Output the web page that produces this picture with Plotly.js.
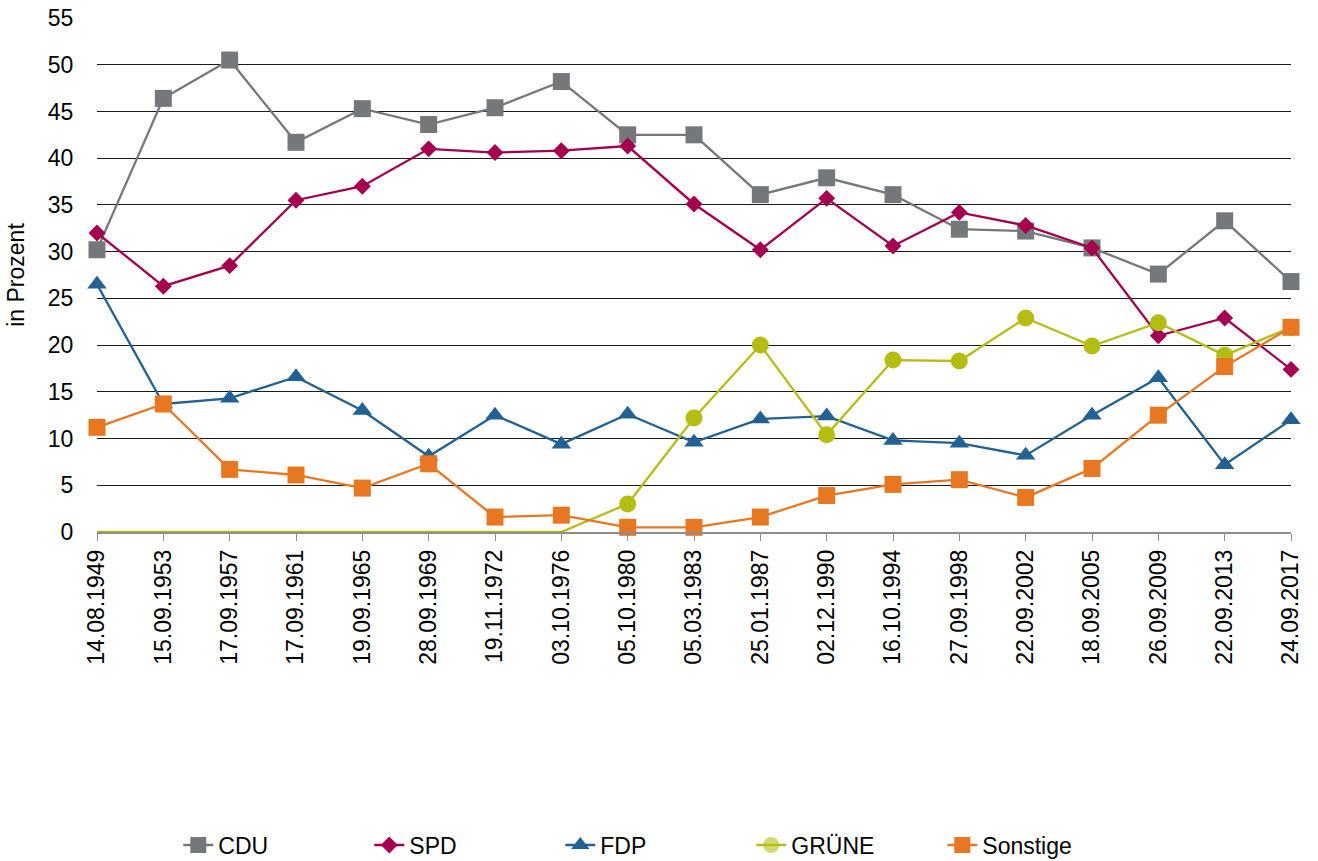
<!DOCTYPE html>
<html>
<head>
<meta charset="utf-8">
<script src="https://cdn.plot.ly/plotly-3.0.1.min.js"></script>
<style>html,body{margin:0;padding:0;background:#fff;}#chart{width:1318px;height:861px;}</style>
</head>
<body>
<div id="chart"></div>
<script>
const dates = ["14.08.1949","15.09.1953","17.09.1957","17.09.1961","19.09.1965","28.09.1969","19.11.1972","03.10.1976","05.10.1980","05.03.1983","25.01.1987","02.12.1990","16.10.1994","27.09.1998","22.09.2002","18.09.2005","26.09.2009","22.09.2013","24.09.2017"];
const cdu = [30.2,46.4,50.5,41.7,45.3,43.6,45.4,48.2,42.5,42.5,36.1,37.9,36.1,32.4,32.2,30.4,27.6,33.3,26.8];
const spd = [32.0,26.3,28.5,35.5,37.0,41.0,40.6,40.8,41.3,35.1,30.2,35.7,30.6,34.2,32.8,30.4,21.0,22.9,17.4];
const fdp = [26.5,13.7,14.3,16.6,13.0,8.1,12.5,9.4,12.6,9.6,12.1,12.4,9.8,9.5,8.2,12.5,16.5,7.2,12.0];
const gruene = [0,0,0,0,0,0,0,0,3.0,12.2,20.0,10.4,18.4,18.3,22.9,19.9,22.4,18.9,21.9];
const sonstige = [11.2,13.7,6.7,6.1,4.7,7.3,1.6,1.8,0.5,0.5,1.6,3.9,5.1,5.6,3.7,6.8,12.5,17.7,21.9];

function tr(name, y, color, symbol, size) {
  return {x: dates, y: y, name: name, type: 'scatter', mode: 'lines+markers', cliponaxis: false,
    line: {color: color, width: 2.3}, marker: {color: color, symbol: symbol, size: size}};
}
const gTrace = tr('GRÜNE', gruene, '#b5bd12', 'circle', 17);
gTrace.marker.opacity = gruene.map(v => v === 0 ? 0 : 1);
const data = [
  tr('CDU', cdu, '#75787b', 'square', 17),
  tr('SPD', spd, '#a4004f', 'diamond', 13),
  tr('FDP', fdp, '#236192', 'triangle-up', 17),
  gTrace,
  tr('Sonstige', sonstige, '#e87722', 'square', 17)
];
const layout = {
  width: 1318, height: 861,
  margin: {l: 97, r: 27, t: 18, b: 329, autoexpand: false},
  paper_bgcolor: '#fff', plot_bgcolor: '#fff',
  font: {family: '"Liberation Sans", Arial, sans-serif', size: 23, color: '#000'},
  showlegend: true,
  legend: {orientation: 'h', x: 0.468, xanchor: 'center', y: -0.609, yanchor: 'middle',
    font: {size: 23}, entrywidth: 146, entrywidthmode: 'pixels', traceorder: 'normal'},
  xaxis: {type: 'category', range: [0, 18], tickangle: -90, showgrid: false,
    showline: true, linecolor: '#8c8c8c', linewidth: 1.5, ticks: 'outside', ticklen: 7,
    tickcolor: '#8c8c8c', tickfont: {size: 23}, automargin: false},
  yaxis: {range: [0, 55], dtick: 5, tick0: 0, showgrid: true, gridcolor: '#1a1a1a', gridwidth: 1,
    zeroline: false, showline: false, ticks: 'outside', ticklen: 18, tickcolor: 'rgba(0,0,0,0)',
    tickfont: {size: 23}, automargin: false,
    title: {text: 'in Prozent', font: {size: 23}, standoff: 16}}
};
Plotly.newPlot('chart', data, layout, {displayModeBar: false, staticPlot: true});
</script>
</body>
</html>
